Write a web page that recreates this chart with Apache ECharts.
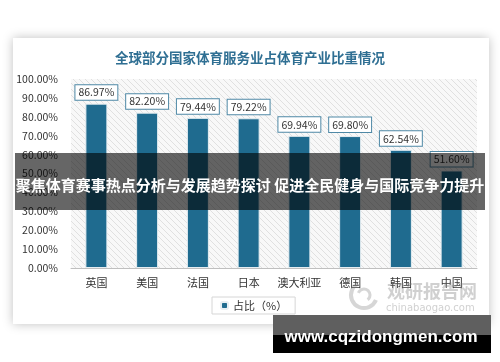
<!DOCTYPE html>
<html><head><meta charset="utf-8">
<script src="https://cdn.jsdelivr.net/npm/echarts@6/dist/echarts.min.js"></script>
<style>html,body{margin:0;padding:0;background:#fff}#c{width:500px;height:362px}</style>
</head><body><div id="c"></div>
<script>
var categories = ['英国','美国','法国','日本','澳大利亚','德国','韩国','中国'];
var shareValues = [86.97, 82.20, 79.44, 79.22, 69.94, 69.80, 62.54, 51.60];
var seriesName = '占比（%）';
var titleText = '全球部分国家体育服务业占体育产业比重情况';
var bannerText = '聚焦体育赛事热点分析与发展趋势探讨 促进全民健身与国际竞争力提升';
var siteText = 'www.cqzidongmen.com';

var pc = document.createElement('canvas');
pc.width = 6; pc.height = 6;
var g = pc.getContext('2d');
g.fillStyle = '#f8f8f8'; g.fillRect(0,0,6,6);
g.strokeStyle = '#e0e0e0'; g.lineWidth = 1;
g.beginPath(); g.moveTo(-1,-1); g.lineTo(7,7); g.moveTo(-4,2); g.lineTo(4,10); g.moveTo(2,-4); g.lineTo(10,4); g.stroke();

var FONT = '"Noto Sans CJK SC", "Noto Sans", sans-serif';
var chart = echarts.init(document.getElementById('c'));
chart.setOption({
  animation: false,
  textStyle: {fontFamily: FONT},
  title: {text: titleText, left: 'center', top: 46, textStyle: {fontSize: 13.5, fontWeight: 'bold', color: '#2f6f93', fontFamily: FONT}},
  grid: {left: 71, right: 23, top: 79, bottom: 94, show: true, borderWidth: 0, backgroundColor: {image: pc, repeat: 'repeat'}},
  legend: {data: [seriesName], left: 212, top: 297, width: 60, itemWidth: 7, itemHeight: 7, borderColor: '#d6d6d6', borderWidth: 1, padding: [3, 8], itemGap: 4,
    textStyle: {fontSize: 11, color: '#333'}},
  xAxis: {type: 'category', data: categories, axisTick: {show: false}, axisLine: {lineStyle: {color: '#bfbfbf'}},
    axisLabel: {fontSize: 11, color: '#333', margin: 9, interval: 0}},
  yAxis: {type: 'value', min: 0, max: 100, interval: 10, splitLine: {show: false},
    axisLabel: {fontSize: 10.5, color: '#333', margin: 13, formatter: function(v){return v.toFixed(2)+'%';}}},
  series: [{name: seriesName, type: 'bar', data: shareValues, barWidth: 22,
    itemStyle: {color: '#1f6b8f', borderColor: '#e6eef2', borderWidth: 1},
    label: {show: true, position: 'top', distance: 4, fontSize: 10.5, color: '#333', backgroundColor: '#fff',
      borderColor: '#4f89a6', borderWidth: 1, padding: [2, 3],
      formatter: function(p){return p.value.toFixed(2)+'%';}}}],
  graphic: [
    {type: 'rect', z: -10, shape: {x: 13, y: 38, width: 476, height: 286}, style: {fill: '#fff', shadowBlur: 10, shadowColor: 'rgba(0,0,0,0.25)'}},
    {type: 'arc', z: 1, shape: {cx: 364, cy: 295, r: 13, startAngle: 0.4, endAngle: 4.2}, style: {stroke: 'rgba(120,120,120,0.3)', lineWidth: 4, fill: null}},
    {type: 'arc', z: 1, shape: {cx: 364, cy: 295, r: 6, startAngle: 3.5, endAngle: 7.2}, style: {stroke: 'rgba(120,120,120,0.3)', lineWidth: 3, fill: null}},
    {type: 'text', z: 1, left: 387, top: 282, style: {text: '观研报告网', fill: 'rgba(120,120,120,0.35)', font: 'bold 18px "Noto Sans CJK SC"'}},
    {type: 'text', z: 1, left: 386, top: 303, style: {text: 'chinabaogao.com', fill: 'rgba(120,120,120,0.35)', font: '10px "DejaVu Sans"'}},
    {type: 'rect', z: 100, shape: {x: 15, y: 153, width: 470, height: 57}, style: {fill: 'rgba(0,0,0,0.6)'}},
    {type: 'text', z: 101, x: 250, y: 185, style: {text: bannerText, fill: '#fff', font: 'bold 15px "Noto Sans CJK SC"', textAlign: 'center', textVerticalAlign: 'middle'}},
    {type: 'rect', z: 100, shape: {x: 273, y: 315, width: 218, height: 20}, style: {fill: '#5f5f5f'}},
    {type: 'rect', z: 100, shape: {x: 273, y: 335, width: 218, height: 18}, style: {fill: '#000'}},
    {type: 'text', z: 101, x: 381, y: 337, style: {text: siteText, fill: '#fff', font: 'bold 17px "Liberation Sans"', textAlign: 'center', textVerticalAlign: 'middle'}}
  ]
});
</script></body></html>
